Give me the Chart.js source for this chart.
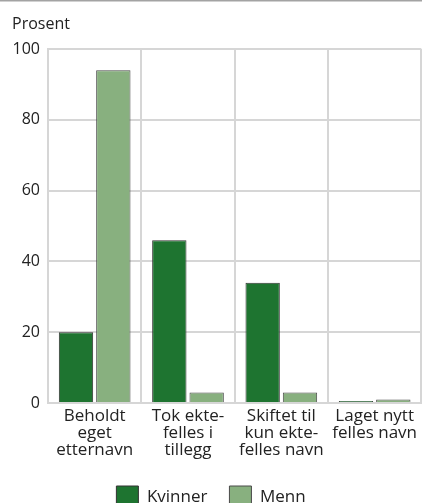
<!DOCTYPE html>
<html>
<head>
<meta charset="utf-8">
<script src="https://cdn.jsdelivr.net/npm/chart.js@4/dist/chart.umd.min.js"></script>
<style>
html,body{margin:0;padding:0;background:#fff;}
#wrap{width:422px;height:503px;position:relative;}
</style>
</head>
<body>
<div id="wrap"><canvas id="c" width="422" height="503"></canvas></div>
<script>
const categories = [["Beholdt","eget","etternavn"],["Tok ekte-","felles i","tillegg"],["Skiftet til","kun ekte-","felles navn"],["Laget nytt","felles navn"]];
const kvinner = [20, 46, 34, 0.3];
const menn = [94, 3, 3, 1];
const yTicks = [0, 20, 40, 60, 80, 100];
const unitLabel = "Prosent";
const seriesNames = ["Kvinner", "Menn"];

const FONT = "'Open Sans', 'Noto Sans', sans-serif";

const decor = {
  id: 'decor',
  beforeDraw(chart) {
    const ctx = chart.ctx;
    ctx.save();
    ctx.fillStyle = '#a3a3a3';
    ctx.fillRect(0, 0, chart.width, 1.5);
    ctx.fillStyle = '#222';
    ctx.font = "16px " + FONT;
    ctx.textBaseline = 'middle';
    ctx.textAlign = 'left';
    ctx.fillText(unitLabel, 12, 24);
    ctx.restore();
  }
};

new Chart(document.getElementById('c'), {
  type: 'bar',
  data: {
    labels: categories,
    datasets: [
      { label: seriesNames[0], data: kvinner, backgroundColor: '#1e7430', borderColor: '#333', borderWidth: 1, minBarLength: 2 },
      { label: seriesNames[1], data: menn, backgroundColor: '#88b07f', borderColor: '#4a4a4a', borderWidth: 1, minBarLength: 2 }
    ]
  },
  options: {
    responsive: false,
    animation: false,
    events: [],
    datasets: { bar: { categoryPercentage: 0.8, barPercentage: 0.92 } },
    layout: { padding: { top: 49, right: 0, left: 0, bottom: -15 } },
    plugins: {
      legend: {
        position: 'bottom',
        labels: {
          font: { family: FONT, size: 17 },
          color: '#222',
          boxWidth: 22,
          boxHeight: 22,
          padding: 22
        }
      },
      tooltip: { enabled: false }
    },
    scales: {
      x: {
        grid: { color: '#d6d6d6', lineWidth: 2, drawTicks: false, offset: true },
        border: { color: '#d6d6d6', width: 2 },
        ticks: { font: { family: FONT, size: 17, lineHeight: 1.0 }, color: '#222', padding: 5, maxRotation: 0, autoSkip: false }
      },
      y: {
        min: 0, max: 100,
        afterBuildTicks(axis) { axis.ticks = yTicks.map(v => ({ value: v })); },
        afterFit(axis) { axis.width = 48; },
        grid: { color: '#d6d6d6', lineWidth: 2, drawTicks: false },
        border: { color: '#d6d6d6', width: 2 },
        ticks: { font: { family: FONT, size: 16 }, color: '#222', padding: 8 }
      }
    }
  },
  plugins: [decor]
});
</script>
</body>
</html>
